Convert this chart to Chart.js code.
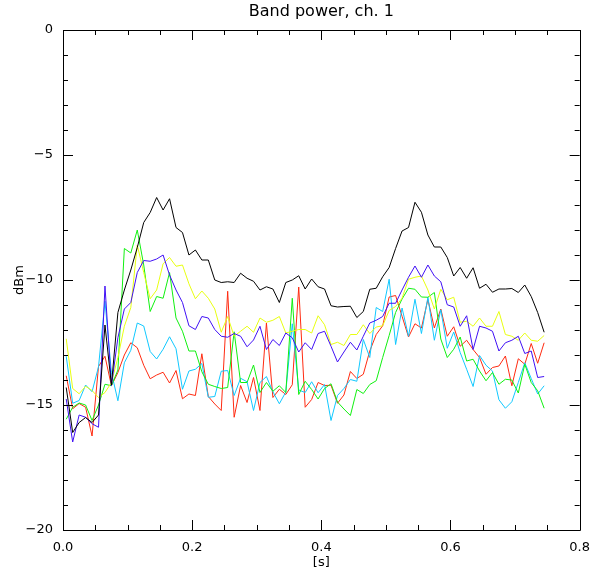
<!DOCTYPE html>
<html>
<head>
<meta charset="utf-8">
<script src="https://cdn.jsdelivr.net/npm/chart.js@4.4.1/dist/chart.umd.min.js"></script>
<style>
html,body{margin:0;padding:0;background:#fff;}
#wrap{width:600px;height:573px;}
</style>
</head>
<body>
<div id="wrap"><canvas id="c" width="600" height="573"></canvas></div>
<script>
// Sample times [s]
const times = [0.005,0.015,0.025,0.035,0.045,0.055,0.065,0.075,0.085,0.095,
0.105,0.115,0.125,0.135,0.145,0.155,0.165,0.175,0.185,0.195,
0.205,0.215,0.225,0.235,0.245,0.255,0.265,0.275,0.285,0.295,
0.305,0.315,0.325,0.335,0.345,0.355,0.365,0.375,0.385,0.395,
0.405,0.415,0.425,0.435,0.445,0.455,0.465,0.475,0.485,0.495,
0.505,0.515,0.525,0.535,0.545,0.555,0.565,0.575,0.585,0.595,
0.605,0.615,0.625,0.635,0.645,0.655,0.665,0.675,0.685,0.695,
0.705,0.715,0.725,0.735,0.745];

// Band power series [dBm]
const black = [-14.3,-16.1,-15.7,-15.5,-15.7,-15.4,-11.8,-14.2,-11.3,-10.4,
-9.6,-8.7,-7.7,-7.3,-6.7,-7.2,-6.75,-7.9,-8.1,-9.0,
-8.8,-9.2,-9.2,-10.0,-10.1,-10.07,-10.1,-9.73,-9.93,-10.05,
-10.4,-10.27,-10.36,-10.9,-10.1,-10.0,-9.83,-10.36,-9.96,-10.27,
-10.36,-11.03,-11.08,-11.06,-11.05,-11.5,-11.26,-10.37,-10.33,-9.87,
-9.5,-8.74,-8.04,-7.9,-6.89,-7.29,-8.2,-8.68,-8.68,-9.1,
-9.84,-9.5,-9.93,-9.51,-10.33,-10.17,-10.49,-10.36,-10.36,-10.34,
-10.5,-10.2,-10.66,-11.3,-12.09];

const blue = [-14.76,-16.48,-15.4,-15.49,-15.75,-15.89,-10.24,-14.23,-12.31,-11.16,
-10.9,-9.7,-9.22,-9.25,-9.16,-9.0,-9.8,-10.4,-10.9,-11.83,
-11.98,-11.46,-11.52,-11.98,-12.25,-12.29,-12.14,-12.25,-12.67,-12.4,
-11.85,-12.78,-12.38,-12.62,-12.12,-12.31,-12.88,-12.51,-12.78,-12.14,
-12.05,-12.65,-13.28,-12.88,-12.49,-12.8,-12.25,-11.72,-11.61,-11.46,
-10.93,-10.93,-10.4,-9.89,-9.44,-9.89,-9.4,-9.84,-10.07,-10.99,
-11.08,-11.85,-11.43,-12.78,-11.85,-11.92,-12.05,-12.84,-12.51,-12.41,
-12.25,-12.94,-12.84,-13.9,-13.86];

const yellow = [-12.35,-14.34,-14.55,-14.25,-14.42,-14.7,-14.5,-14.1,-13.1,-11.85,
-11.1,-8.6,-9.7,-10.75,-10.4,-9.35,-9.1,-9.45,-9.4,-10.15,
-10.75,-10.44,-10.73,-11.16,-12.09,-11.46,-12.25,-12.05,-11.85,-12.09,
-11.52,-11.69,-11.61,-11.46,-12.12,-12.05,-11.98,-11.98,-12.12,-11.43,
-11.79,-12.58,-12.49,-12.62,-12.18,-12.18,-11.79,-12.14,-11.88,-11.83,
-11.22,-11.06,-10.73,-9.97,-9.89,-9.84,-10.4,-11.16,-10.37,-10.79,
-10.69,-11.69,-11.65,-11.85,-11.52,-11.85,-11.85,-11.26,-12.18,-12.25,
-12.41,-12.12,-12.41,-12.45,-12.22];

const green = [-15.57,-15.09,-14.92,-15.0,-15.62,-15.0,-14.17,-14.23,-13.6,-8.74,
-8.92,-8.0,-9.4,-11.26,-10.66,-10.73,-9.7,-11.52,-12.05,-12.84,
-12.84,-13.67,-14.17,-14.26,-14.34,-14.3,-12.07,-14.1,-14.1,-13.4,
-14.5,-14.1,-14.45,-14.23,-14.5,-10.73,-14.58,-14.05,-14.38,-14.76,
-14.34,-14.15,-14.88,-15.16,-15.42,-14.38,-14.54,-14.18,-14.03,-13.1,
-12.22,-11.3,-10.76,-10.33,-10.37,-10.68,-10.69,-10.5,-12.36,-13.1,
-12.77,-12.28,-13.24,-13.17,-13.64,-14.03,-13.7,-14.17,-13.97,-14.0,
-14.52,-13.37,-14.1,-14.43,-15.13];

const cyan = [-13.05,-14.93,-14.82,-14.2,-14.47,-13.47,-10.85,-13.7,-14.83,-13.31,
-12.81,-11.72,-11.84,-12.86,-13.16,-12.77,-12.27,-12.75,-14.37,-13.64,
-13.57,-13.34,-14.69,-14.66,-13.65,-13.62,-14.62,-13.93,-14.07,-15.22,
-14.1,-13.86,-14.47,-14.95,-14.48,-11.75,-14.4,-14.5,-14.07,-14.51,
-14.18,-15.62,-14.62,-14.34,-13.98,-14.05,-12.38,-13.1,-11.1,-11.26,
-9.97,-12.58,-11.12,-12.25,-10.77,-12.14,-10.69,-12.41,-11.19,-12.73,
-12.08,-12.9,-13.57,-14.26,-13.02,-13.41,-13.64,-14.79,-15.13,-14.87,
-14.1,-13.31,-13.94,-14.56,-14.23];

const red = [-13.83,-15.15,-14.94,-15.09,-16.24,-13.46,-13.05,-14.23,-13.7,-13.0,
-12.51,-12.71,-13.41,-13.95,-13.8,-13.69,-14.12,-13.62,-14.75,-14.56,
-14.62,-12.95,-14.66,-14.96,-15.22,-10.45,-15.49,-14.22,-14.9,-13.9,
-15.22,-11.72,-14.7,-14.37,-14.58,-14.19,-10.28,-15.09,-14.78,-14.1,
-14.22,-14.21,-14.93,-14.6,-13.66,-13.94,-13.77,-12.84,-12.18,-11.83,
-10.68,-10.62,-11.45,-12.28,-11.75,-11.92,-10.78,-11.92,-11.16,-12.25,
-11.87,-12.65,-12.41,-12.78,-13.1,-13.77,-13.5,-13.44,-13.04,-14.23,
-13.15,-13.37,-12.54,-13.33,-12.51];

// Axis ticks
const xMajorTicks = [0.0, 0.2, 0.4, 0.6, 0.8];
const xMinorTicks = [0.05,0.1,0.15,0.25,0.3,0.35,0.45,0.5,0.55,0.65,0.7,0.75];
const yMajorTicks = [0, -5, -10, -15, -20];
const yMinorTicks = [-1,-2,-3,-4,-6,-7,-8,-9,-11,-12,-13,-14,-16,-17,-18,-19];

const seriesList = [
  {name:'1', vals: black,  color:'#000000'},
  {name:'2', vals: blue,   color:'#4010f5'},
  {name:'3', vals: yellow, color:'#e8ff10'},
  {name:'4', vals: green,  color:'#10f010'},
  {name:'5', vals: cyan,   color:'#10c8ff'},
  {name:'6', vals: red,    color:'#ff2a10'}
];

const FONT = "'DejaVu Sans', sans-serif";

const framePlugin = {
  id: 'frame',
  afterDraw(chart) {
    const {ctx, chartArea, scales} = chart;
    const {left, right, top, bottom} = chartArea;
    const xs = scales.x, ys = scales.y;
    ctx.save();
    ctx.strokeStyle = '#000';
    ctx.lineWidth = 1;
    ctx.beginPath();
    ctx.rect(Math.round(left) + 0.5, Math.round(top) + 0.5, Math.round(right - left), Math.round(bottom - top));
    ctx.stroke();
    const drawX = (v, len) => {
      const px = Math.round(xs.getPixelForValue(v)) + 0.5;
      ctx.beginPath();
      ctx.moveTo(px, bottom); ctx.lineTo(px, bottom - len);
      ctx.moveTo(px, top); ctx.lineTo(px, top + len);
      ctx.stroke();
    };
    const drawY = (v, len) => {
      const py = Math.round(ys.getPixelForValue(v)) + 0.5;
      ctx.beginPath();
      ctx.moveTo(left, py); ctx.lineTo(left + len, py);
      ctx.moveTo(right, py); ctx.lineTo(right - len, py);
      ctx.stroke();
    };
    xMajorTicks.forEach(v => drawX(v, 10));
    xMinorTicks.forEach(v => drawX(v, 5));
    yMajorTicks.forEach(v => drawY(v, 10));
    yMinorTicks.forEach(v => drawY(v, 5));
    ctx.restore();
  }
};

new Chart(document.getElementById('c'), {
  type: 'line',
  data: {
    datasets: seriesList.map(s => ({
      label: s.name,
      data: times.map((t, i) => ({x: t, y: s.vals[i]})),
      borderColor: s.color,
      backgroundColor: s.color,
      borderWidth: 1,
      pointRadius: 0,
      tension: 0,
      fill: false
    }))
  },
  options: {
    responsive: false,
    animation: false,
    events: [],
    layout: {padding: {left: 0, right: 20, top: 0, bottom: 0}},
    plugins: {
      legend: {display: false},
      tooltip: {enabled: false},
      title: {
        display: true,
        text: 'Band power, ch. 1',
        fullSize: false,
        color: '#000',
        font: {family: FONT, size: 16, weight: 'normal', lineHeight: 1.2},
        padding: {top: 2, bottom: 8.8}
      }
    },
    scales: {
      x: {
        type: 'linear',
        min: 0, max: 0.8,
        grid: {display: false, drawTicks: false},
        border: {display: false},
        ticks: {
          stepSize: 0.2,
          padding: 10,
          color: '#000',
          font: {family: FONT, size: 13},
          maxRotation: 0,
          callback: v => Number(v).toFixed(1)
        },
        title: {
          display: true, text: '[s]', color: '#000',
          font: {family: FONT, size: 13},
          padding: {top: 0, bottom: 3}
        },
        afterFit: s => { s.height = 43; }
      },
      y: {
        type: 'linear',
        min: -20, max: 0,
        grid: {display: false, drawTicks: false},
        border: {display: false},
        ticks: {
          stepSize: 5,
          padding: 10,
          color: '#000',
          font: {family: FONT, size: 13},
          callback: v => (v < 0 ? '\u2212' + Math.abs(v) : String(v))
        },
        title: {
          display: true, text: 'dBm', color: '#000',
          font: {family: FONT, size: 13},
          padding: {top: 12, bottom: 0}
        },
        afterFit: s => { s.width = 63; }
      }
    }
  },
  plugins: [framePlugin]
});
</script>
</body>
</html>
